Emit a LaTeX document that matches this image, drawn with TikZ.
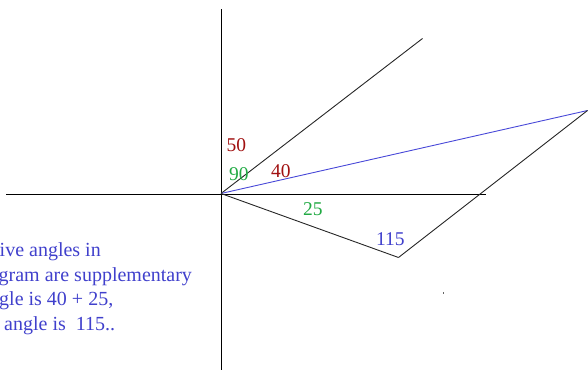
\documentclass[tikz,border=0pt]{standalone}
\usepackage{fontspec}
\setmainfont{Liberation Serif}
\definecolor{lblred}{HTML}{A01010}
\definecolor{lblgreen}{HTML}{22AA44}
\definecolor{lblblue}{HTML}{4040CC}
\definecolor{lineblue}{HTML}{4848D8}
\begin{document}
\begin{tikzpicture}[x=1pt,y=-1pt,
  axis/.style={draw=black,line width=1pt},
  seg/.style={draw=black!85,line width=0.9pt},
  blueseg/.style={draw=lineblue,line width=0.9pt},
  lbl/.style={anchor=base west,inner sep=0pt,font=\fontsize{19.5}{21}\selectfont},
  txt/.style={anchor=base west,inner sep=0pt,text=lblblue,font=\fontsize{20}{22}\selectfont},
  speck/.style={fill=black!60,inner sep=0pt,minimum size=1.6pt}]
\useasboundingbox (0,0) rectangle (588,370);
% coordinates
\coordinate (O) at (221,193.5);
\coordinate (vtop) at (221,9);
\coordinate (vbot) at (221,370);
\coordinate (hleft) at (6,194);
\coordinate (hright) at (486,194);
\coordinate (A) at (422.5,38.5);
\coordinate (R) at (587.5,110.5);
\coordinate (B) at (398.5,257.5);
% axes
\draw[axis] (vtop) -- (vbot);
\draw[axis] (hleft) -- (hright);
% segments
\draw[seg] (O) -- (A);
\draw[blueseg] (O) -- (R);
\draw[seg] (O) -- (B);
\draw[seg] (B) -- (R);
% labels
\node[lbl,text=lblred] (l50) at (226.5,151) {50};
\node[lbl,text=lblgreen] (l90) at (229,180) {90};
\node[lbl,text=lblred] (l40) at (271,177) {40};
\node[lbl,text=lblgreen] (l25) at (303,215) {25};
\node[lbl,text=lblblue] (l115) at (376,245) {115};
% specks
\node[speck] (s1) at (443.3,292.7) {};
% text
\node[txt] (t1) at (-0.5,256.5) {ive angles in};
\node[txt] (t2) at (-1.5,281) {gram are supplementary};
\node[txt] (t3) at (-1,305.5) {gle is 40 + 25,};
\node[txt] (t4) at (-1,330) {\ angle is\ \ 115..};
\end{tikzpicture}
\end{document}
